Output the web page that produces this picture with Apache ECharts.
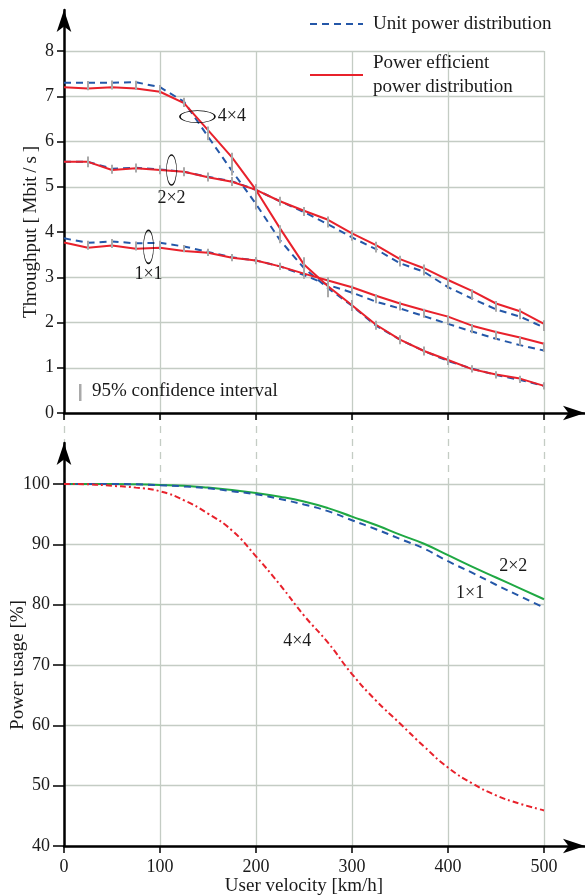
<!DOCTYPE html>
<html>
<head>
<meta charset="utf-8">
<script src="https://cdn.jsdelivr.net/npm/echarts@6/dist/echarts.min.js"></script>
<style>
  html, body { margin: 0; padding: 0; background: #fff; }
  #chart { width: 585px; height: 895px; }
</style>
</head>
<body>
<div id="chart"></div>
<script>
// ── data ──
const velocity = [0, 25, 50, 75, 100, 125, 150, 175, 200, 225, 250, 275, 300, 325, 350, 375, 400, 425, 450, 475, 500];

// throughput [Mbit/s], unit power distribution (dashed)
const unit4x4 = [7.30, 7.30, 7.30, 7.31, 7.20, 6.88, 6.11, 5.35, 4.62, 3.82, 3.20, 2.76, 2.37, 1.93, 1.62, 1.37, 1.15, 0.98, 0.84, 0.73, 0.60];
const unit2x2 = [5.55, 5.55, 5.40, 5.42, 5.38, 5.33, 5.22, 5.12, 4.93, 4.68, 4.44, 4.17, 3.88, 3.62, 3.31, 3.12, 2.78, 2.53, 2.29, 2.13, 1.89];
const unit1x1 = [3.86, 3.76, 3.79, 3.75, 3.76, 3.68, 3.56, 3.44, 3.37, 3.24, 3.05, 2.83, 2.66, 2.46, 2.31, 2.14, 1.97, 1.80, 1.64, 1.50, 1.38];

// throughput [Mbit/s], power efficient power distribution (solid)
const eff4x4 = [7.20, 7.17, 7.20, 7.17, 7.10, 6.85, 6.25, 5.65, 4.93, 4.08, 3.28, 2.80, 2.38, 1.95, 1.62, 1.37, 1.17, 0.97, 0.85, 0.76, 0.60];
const eff2x2 = [5.55, 5.55, 5.37, 5.41, 5.37, 5.33, 5.21, 5.11, 4.93, 4.68, 4.47, 4.27, 3.97, 3.71, 3.40, 3.20, 2.94, 2.70, 2.42, 2.25, 1.97];
const eff1x1 = [3.77, 3.65, 3.70, 3.63, 3.65, 3.58, 3.54, 3.43, 3.37, 3.24, 3.08, 2.93, 2.78, 2.59, 2.42, 2.27, 2.13, 1.93, 1.79, 1.67, 1.53];

// 95% confidence half widths
const err4x4 = [0, 0.10, 0.10, 0.10, 0.10, 0.10, 0.15, 0.25, 0.28, 0.20, 0.20, 0.22, 0.12, 0.10, 0.10, 0.10, 0.10, 0.08, 0.08, 0.08, 0.08];
const err2x2 = [0, 0.12, 0.10, 0.10, 0.10, 0.10, 0.10, 0.10, 0.12, 0.10, 0.10, 0.12, 0.12, 0.12, 0.12, 0.12, 0.12, 0.12, 0.12, 0.12, 0.12];
const err1x1 = [0, 0.10, 0.10, 0.10, 0.10, 0.08, 0.08, 0.08, 0.08, 0.08, 0.10, 0.12, 0.10, 0.10, 0.10, 0.10, 0.10, 0.10, 0.10, 0.10, 0.10];

// power usage [%]
const usage1x1 = [100, 100, 100, 99.95, 99.8, 99.6, 99.3, 98.8, 98.3, 97.5, 96.6, 95.5, 94.0, 92.5, 90.9, 89.3, 87.2, 85.3, 83.3, 81.4, 79.5];
const usage2x2 = [100, 100, 100, 99.95, 99.85, 99.7, 99.4, 99.0, 98.5, 97.9, 97.1, 96.0, 94.6, 93.2, 91.6, 90.1, 88.2, 86.3, 84.5, 82.7, 80.9];
const usage4x4 = [100, 99.95, 99.7, 99.4, 98.8, 97.3, 95.1, 92.3, 88.0, 83.3, 78.2, 73.7, 68.5, 64.1, 60.3, 56.5, 53.0, 50.4, 48.4, 47.0, 45.9];

const UNIT = 'Unit power distribution';
const EFF = 'Power efficient power distribution';

// ── styles ──
const FONT = 'Liberation Serif';
const TEXT = '#1a1a1a';
const RED = '#e8212b';
const BLUE = '#2457a8';
const GREEN = '#1fa843';
const GRID = '#c4ccc4';
const BAR_GRAY = '#a9a9a9';

const pairs = (vals) => velocity.map((v, i) => [v, vals[i]]);

function unitLine(vals) {
  return {
    name: UNIT, type: 'line', xAxisIndex: 0, yAxisIndex: 0,
    data: pairs(vals), symbol: 'none', z: 3,
    lineStyle: { color: BLUE, width: 2, type: [7, 5] },
    itemStyle: { color: BLUE },
  };
}

function effLine(vals, extra) {
  return Object.assign({
    name: EFF, type: 'line', xAxisIndex: 0, yAxisIndex: 0,
    data: pairs(vals), symbol: 'none', z: 4,
    lineStyle: { color: RED, width: 2 },
    itemStyle: { color: RED },
  }, extra || {});
}

// gray vertical confidence bars
function errorBars(vals, errs) {
  return {
    type: 'custom', xAxisIndex: 0, yAxisIndex: 0, z: 6, silent: true,
    data: velocity.map((v, i) => [v, vals[i], errs[i]]).filter((d) => d[2] > 0),
    renderItem: (params, api) => {
      const hi = api.coord([api.value(0), api.value(1) + api.value(2)]);
      const lo = api.coord([api.value(0), api.value(1) - api.value(2)]);
      return {
        type: 'line',
        shape: { x1: hi[0], y1: hi[1], x2: lo[0], y2: lo[1] },
        style: { stroke: BAR_GRAY, lineWidth: 2 },
      };
    },
  };
}

const tickFont = { fontFamily: FONT, fontSize: 18, color: TEXT };
const textFont = { fontFamily: FONT, fontSize: 19, color: TEXT };
const splitLine = { show: true, lineStyle: { color: GRID, width: 1.3 } };
const tickStyle = { color: '#000', width: 1.5 };

function frameAxis(idx) {
  return {
    type: 'value', gridIndex: idx, min: 0, max: 1,
    axisLine: { show: true, symbol: ['none', 'arrow'], symbolSize: [11, 22], lineStyle: { color: '#000', width: 2.5 } },
    axisTick: { show: false }, axisLabel: { show: false }, splitLine: { show: false },
  };
}

function usageLabel(text, coord) {
  return {
    silent: true, symbol: 'circle', symbolSize: 1, itemStyle: { color: 'rgba(0,0,0,0)' },
    label: Object.assign({ show: true, position: 'inside' }, tickFont),
    data: [{ coord, label: { formatter: text } }],
  };
}

const chart = echarts.init(document.getElementById('chart'));

chart.setOption({
  backgroundColor: '#fff',
  animation: false,
  textStyle: { fontFamily: FONT },
  grid: [
    { left: 64, top: 51, width: 480, height: 362, outerBoundsMode: 'none' },   // throughput
    { left: 64, top: 413, width: 480, height: 71, outerBoundsMode: 'none' },   // dashed connector
    { left: 64, top: 484, width: 480, height: 362, outerBoundsMode: 'none' },  // power usage
    { left: 64, top: 10, right: 0, height: 403, outerBoundsMode: 'none' },     // top arrows
    { left: 64, top: 443, right: 0, height: 403, outerBoundsMode: 'none' },    // bottom arrows
  ],
  legend: {
    data: [UNIT, EFF],
    orient: 'vertical', left: 304, top: 7,
    itemWidth: 53, itemHeight: 14, itemGap: 15,
    selectedMode: false,
    itemStyle: { opacity: 0 },
    formatter: (name) => (name === EFF ? 'Power efficient\npower distribution' : name),
    textStyle: Object.assign({ lineHeight: 24, padding: [0, 0, 0, 5] }, textFont),
  },
  xAxis: [
    {
      type: 'value', gridIndex: 0, min: 0, max: 500, interval: 100,
      axisLine: { show: false },
      axisTick: { show: true, length: 7, lineStyle: tickStyle },
      axisLabel: { show: false }, splitLine,
    },
    {
      type: 'value', gridIndex: 1, min: 0, max: 500, interval: 100,
      axisLine: { show: false }, axisTick: { show: false }, axisLabel: { show: false },
      splitLine: { show: true, lineStyle: { color: GRID, width: 1.3, type: [7, 6] } },
    },
    {
      type: 'value', gridIndex: 2, min: 0, max: 500, interval: 100,
      name: 'User velocity [km/h]', nameLocation: 'middle', nameGap: 28,
      nameTextStyle: textFont,
      axisLine: { show: false },
      axisTick: { show: true, length: 7, lineStyle: tickStyle },
      axisLabel: Object.assign({ margin: 12 }, tickFont), splitLine,
    },
    frameAxis(3),
    frameAxis(4),
  ],
  yAxis: [
    {
      type: 'value', gridIndex: 0, min: 0, max: 8, interval: 1,
      name: 'Throughput [\u2009Mbit\u2009/\u2009s\u2009]', nameLocation: 'middle', nameGap: 23,
      nameMoveOverlap: false,
      nameTextStyle: textFont,
      axisLine: { show: false },
      axisTick: { show: true, length: 7, lineStyle: tickStyle },
      axisLabel: Object.assign({ margin: 10 }, tickFont), splitLine,
    },
    { type: 'value', gridIndex: 1, min: 0, max: 1, show: false },
    {
      type: 'value', gridIndex: 2, min: 40, max: 100, interval: 10,
      name: 'Power usage [%]', nameLocation: 'middle', nameGap: 36,
      nameMoveOverlap: false,
      nameTextStyle: textFont,
      axisLine: { show: false },
      axisTick: { show: true, length: 11, lineStyle: tickStyle },
      axisLabel: Object.assign({ margin: 14 }, tickFont), splitLine,
    },
    frameAxis(3),
    frameAxis(4),
  ],
  graphic: [
    { type: 'rect', left: 79, top: 384, z: 10, shape: { width: 2.5, height: 17 }, style: { fill: BAR_GRAY } },
    { type: 'text', left: 92, top: 382, z: 10, style: { text: '95% confidence interval', fontFamily: FONT, fontSize: 19, fill: TEXT } },
  ],
  series: [
    unitLine(unit4x4),
    unitLine(unit2x2),
    unitLine(unit1x1),
    effLine(eff4x4, {
      markPoint: {
        silent: true,
        symbol: 'circle',
        itemStyle: { color: 'rgba(0,0,0,0)', borderColor: '#111', borderWidth: 1 },
        label: Object.assign({ show: true }, tickFont),
        data: [
          { coord: [139, 6.55], symbolSize: [35, 12], label: { formatter: '4×4', position: 'right', distance: 2 } },
          { coord: [112, 5.37], symbolSize: [10, 30], label: { formatter: '2×2', position: 'bottom', distance: 3 } },
          { coord: [88, 3.67], symbolSize: [10, 33], label: { formatter: '1×1', position: 'bottom', distance: 1 } },
        ],
      },
    }),
    effLine(eff2x2),
    effLine(eff1x1),
    errorBars(unit4x4.map((u, i) => (u + eff4x4[i]) / 2), err4x4),
    errorBars(unit2x2.map((u, i) => (u + eff2x2[i]) / 2), err2x2),
    errorBars(unit1x1.map((u, i) => (u + eff1x1[i]) / 2), err1x1),
    {
      name: '1×1', type: 'line', xAxisIndex: 2, yAxisIndex: 2,
      data: pairs(usage1x1), symbol: 'none', smooth: true, z: 3,
      lineStyle: { color: BLUE, width: 2, type: [7, 5] },
      markPoint: usageLabel('1×1', [423, 81.9]),
    },
    {
      name: '2×2', type: 'line', xAxisIndex: 2, yAxisIndex: 2,
      data: pairs(usage2x2), symbol: 'none', smooth: true, z: 2,
      lineStyle: { color: GREEN, width: 2 },
      markPoint: usageLabel('2×2', [468, 86.4]),
    },
    {
      name: '4×4', type: 'line', xAxisIndex: 2, yAxisIndex: 2,
      data: pairs(usage4x4), symbol: 'none', smooth: true, z: 3,
      lineStyle: { color: RED, width: 2, type: [6, 3, 2, 3] },
      markPoint: usageLabel('4×4', [243, 74.0]),
    },
  ],
});
</script>
</body>
</html>
